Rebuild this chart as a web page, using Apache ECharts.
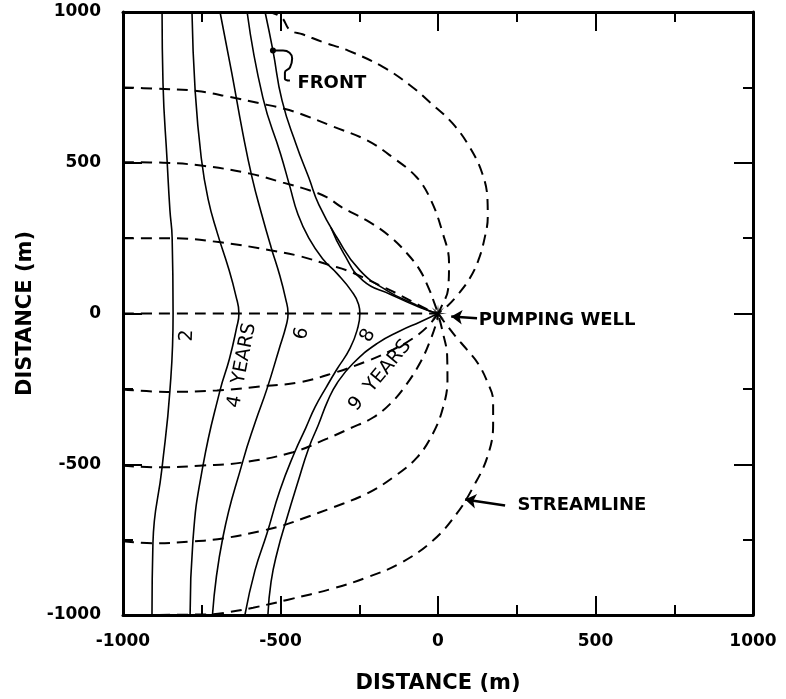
<!DOCTYPE html>
<html>
<head>
<meta charset="utf-8">
<script src="https://cdn.jsdelivr.net/npm/echarts@6/dist/echarts.min.js"></script>
<style>
html, body { margin: 0; padding: 0; background: #fff; }
#chart { width: 786px; height: 699px; }
</style>
</head>
<body>
<div id="chart"></div>
<script>
// axis ticks
var tickMin = -1000, tickMax = 1000, tickStep = 500;

// streamlines (dashed), [x, y] in metres
var streamTop = [[-1000,1000],[-560,1000],[-500,985],[-470,940],[-430,926],[-365,900],[-285,872],[-175,818],[-90,758],[-25,700],[45,632],[100,553],[140,466],[157,380],[158,320],[148,250],[128,176],[100,115],[65,65],[30,25],[0,0]];
var stream750 = [[-1000,750],[-905,746],[-765,738],[-660,718],[-565,697],[-492,680],[-438,663],[-333,620],[-225,574],[-143,517],[-67,451],[-22,375],[14,270],[35,170],[32,80],[12,25],[0,0]];
var stream500 = [[-1000,502],[-873,500],[-746,490],[-597,464],[-492,434],[-406,408],[-352,385],[-305,352],[-225,308],[-152,255],[-98,199],[-57,143],[-28,80],[-10,30],[0,0]];
var stream250 = [[-1000,250],[-850,250],[-690,236],[-533,210],[-438,190],[-343,160],[-289,143],[-238,120],[-184,93],[-130,66],[-79,38],[-30,12],[0,0]];
var stream0 = [[-1000,0],[0,0]];
var streamM250 = [[-1000,-252],[-860,-260],[-702,-255],[-543,-240],[-438,-228],[-333,-198],[-225,-158],[-143,-120],[-79,-82],[-30,-40],[0,0]];
var streamM500 = [[-1000,-505],[-883,-510],[-746,-504],[-619,-494],[-460,-460],[-352,-415],[-279,-381],[-206,-345],[-150,-298],[-100,-235],[-55,-160],[-25,-90],[-5,-30],[0,0]];
var streamM750 = [[-1000,-755],[-905,-762],[-778,-756],[-683,-746],[-556,-720],[-492,-703],[-429,-680],[-333,-643],[-225,-597],[-143,-544],[-67,-478],[-16,-398],[16,-312],[30,-222],[29,-139],[16,-66],[0,0]];
var streamBottom = [[-1000,-1000],[-720,-998],[-660,-990],[-587,-976],[-479,-950],[-333,-912],[-225,-875],[-121,-829],[-16,-753],[60,-663],[111,-577],[156,-478],[175,-370],[175,-290],[156,-225],[127,-166],[92,-120],[55,-75],[25,-35],[0,0]];

// travel-time lines (solid)
var year2 = [[-876,1000],[-873,763],[-860,507],[-851,342],[-844,252],[-841,0],[-851,-255],[-876,-511],[-905,-763],[-908,-1000]];
var year4 = [[-781,1000],[-771,740],[-752,520],[-730,380],[-700,265],[-665,150],[-642,60],[-632,0],[-640,-50],[-662,-150],[-692,-255],[-746,-504],[-778,-753],[-787,-1000]];
var year6 = [[-692,1000],[-655,800],[-620,600],[-590,450],[-560,330],[-530,220],[-502,125],[-484,50],[-476,0],[-482,-40],[-505,-120],[-543,-250],[-580,-360],[-619,-488],[-683,-743],[-716,-1000]];
var year8 = [[-606,1000],[-556,716],[-500,530],[-470,420],[-445,330],[-410,250],[-365,180],[-321,133],[-275,75],[-252,30],[-248,0],[-254,-45],[-279,-115],[-321,-185],[-355,-245],[-390,-310],[-420,-380],[-455,-460],[-502,-587],[-543,-730],[-581,-852],[-613,-1000]];
var year9Up = [[-340,285],[-300,200],[-238,109],[-152,64],[-57,20],[0,0]];
var year9Low = [[0,0],[-57,-28],[-121,-58],[-194,-100],[-270,-166],[-321,-232],[-350,-290],[-380,-370],[-410,-445],[-445,-560],[-480,-680],[-510,-790],[-530,-890],[-540,-1000]];
var front = [[-549,1000],[-524,872],[-495,706],[-450,560],[-410,450],[-378,360],[-321,252],[-248,143],[-162,76],[-79,33],[-30,10],[0,0]];
var frontHook = [[-524,872],[-492,872],[-463,846],[-470,816],[-486,799],[-486,779],[-470,773]];

var well = [[0,0]];

// text on the plot: [x, y, text, rotation]
var notes = [
    [-797,-73,'2',88],
    [-622,-172,'4  YEARS',79],
    [-432,-66,'6',77],
    [-222,-73,'8',62],
    [-184,-206,'9  YEARS',50]
];
var callouts = [
    [-337,763,'FRONT'],
    [378,-23,'PUMPING WELL'],
    [457,-637,'STREAMLINE']
];
var arrows = [
    [[124,-16],[42,-10]],
    [[213,-637],[86,-617]]
];

var streams = [streamTop, stream750, stream500, stream250, stream0, streamM250, streamM500, streamM750, streamBottom];
var isochrones = [year2, year4, year6, year8, front, year9Up, year9Low];

var FONT = 'DejaVu Sans';
var series = [];

streams.forEach(function (d) {
    series.push({
        type: 'line', data: d, smooth: 0.4, showSymbol: false, silent: true,
        lineStyle: { color: '#000', width: 2, type: [11, 7] }
    });
});
isochrones.forEach(function (d) {
    series.push({
        type: 'line', data: d, smooth: 0.5, showSymbol: false, silent: true,
        lineStyle: { color: '#000', width: 1.6 }
    });
});
series.push({
    type: 'line', smooth: 0.5, silent: true, symbol: 'none',
    data: frontHook.map(function (p, i) {
        return i === 0 ? { value: p, symbol: 'circle', symbolSize: 6, itemStyle: { color: '#000' } } : { value: p };
    }),
    lineStyle: { color: '#000', width: 2 }
});
series.push({
    type: 'scatter', data: well, silent: true,
    symbol: 'path://M10,0L2.31,0.96L7.07,7.07L0.96,2.31L0,10L-0.96,2.31L-7.07,7.07L-2.31,0.96L-10,0L-2.31,-0.96L-7.07,-7.07L-0.96,-2.31L0,-10L0.96,-2.31L7.07,-7.07L2.31,-0.96Z',
    symbolSize: 18, itemStyle: { color: '#000' }
});
series.push({
    type: 'lines', coordinateSystem: 'cartesian2d', silent: true,
    symbol: ['none', 'arrow'], symbolSize: 11,
    lineStyle: { color: '#000', width: 2.5, opacity: 1 },
    data: arrows.map(function (a) { return { coords: a }; })
});

var textLabel = { show: true, position: 'inside', color: '#000', opacity: 1, textBorderWidth: 0, fontFamily: FONT };
series.push({
    type: 'scatter', symbolSize: 0, silent: true, itemStyle: { color: '#000' },
    data: notes.map(function (n) {
        return { value: [n[0], n[1]], label: { formatter: n[2], rotate: n[3] } };
    }),
    label: Object.assign({ fontSize: 19 }, textLabel)
});
series.push({
    type: 'scatter', symbolSize: 0, silent: true, itemStyle: { color: '#000' },
    data: callouts.map(function (n) {
        return { value: [n[0], n[1]], label: { formatter: n[2] } };
    }),
    label: Object.assign({ fontSize: 18, fontWeight: 'bold' }, textLabel)
});

var tickStyle = { show: true, inside: true, length: 19, lineStyle: { color: '#000', width: 2 } };
var minorStyle = { show: true, splitNumber: 2, length: 10, lineStyle: { color: '#000', width: 2 } };
var lineStyle = { show: true, onZero: false, lineStyle: { color: '#000', width: 3 } };
var labelStyle = { color: '#000', fontFamily: FONT, fontWeight: 'bold', fontSize: 17, formatter: function (v) { return String(v); } };
var nameStyle = { color: '#000', fontFamily: FONT, fontWeight: 'bold', fontSize: 21 };

function axis(pos, extra) {
    var a = {
        type: 'value', position: pos, min: tickMin, max: tickMax, interval: tickStep,
        axisLine: lineStyle, axisTick: tickStyle, minorTick: minorStyle,
        splitLine: { show: false }, minorSplitLine: { show: false },
        axisLabel: { show: false }
    };
    for (var k in extra) a[k] = extra[k];
    return a;
}

var chart = echarts.init(document.getElementById('chart'));
chart.setOption({
    animation: false,
    backgroundColor: '#fff',
    grid: { left: 123, right: 33, top: 12, bottom: 84 },
    xAxis: [
        axis('bottom', {
            name: 'DISTANCE (m)', nameLocation: 'middle', nameGap: 58, nameTextStyle: nameStyle,
            axisLabel: Object.assign({ show: true, margin: 18 }, labelStyle)
        }),
        axis('top', {})
    ],
    yAxis: [
        axis('left', {
            name: 'DISTANCE (m)', nameLocation: 'middle', nameGap: 84, nameTextStyle: nameStyle,
            axisLabel: Object.assign({ show: true, margin: 22 }, labelStyle)
        }),
        axis('right', {})
    ],
    series: series
});
</script>
</body>
</html>
